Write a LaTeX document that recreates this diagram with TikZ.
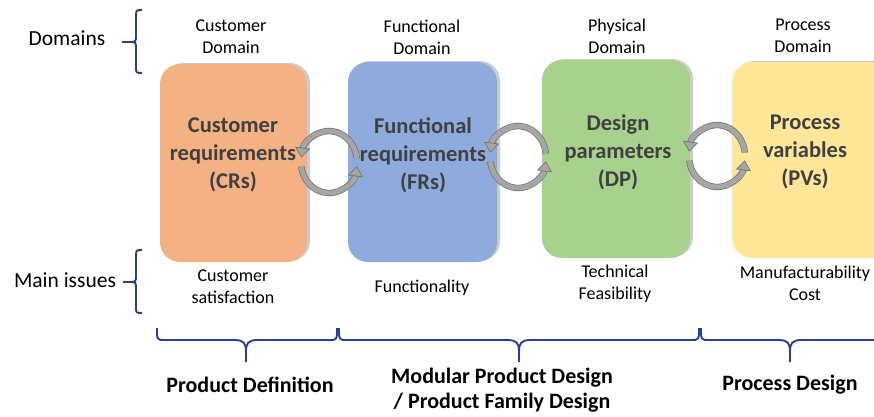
\documentclass[tikz,border=0pt]{standalone}
\usepackage{fontspec}
\setmainfont{Carlito}
\usetikzlibrary{arrows.meta,shadows}
\definecolor{cro}{HTML}{F4B183}
\definecolor{cfr}{HTML}{8FAADC}
\definecolor{cdp}{HTML}{A9D18E}
\definecolor{cpv}{HTML}{FFE699}
\definecolor{bcol}{HTML}{2E3D8F}
\definecolor{tgray}{HTML}{404040}
\definecolor{agray}{HTML}{A6A6A6}
\definecolor{adark}{HTML}{6F6F6F}
\newcommand\hbr[3]{%
  \draw[brc] (#1,328) .. controls (#1,340) .. ({#1+8},340) -- ({#2-12},340)
     .. controls ({#2-2},340) and (#2,343) .. (#2,352) -- (#2,362)
     (#2,362) -- (#2,352) .. controls (#2,343) and ({#2+2},340) .. ({#2+12},340)
     -- ({#3-8},340) .. controls (#3,340) .. (#3,328);}
\newcommand\cycarrows[1]{%
  \begin{scope}[shift={#1}, y=1pt]
    \draw[cyarr] (6:28 and 31) arc[start angle=6, end angle=172, x radius=28, y radius=31];
    \draw[cyarr] (188:28 and 31) arc[start angle=188, end angle=352, x radius=28, y radius=31];
  \end{scope}}
\begin{document}
\begin{tikzpicture}[x=1pt,y=-1pt,
  box/.style={rounded corners=20pt, inner sep=0pt,
    drop shadow={shadow xshift=3pt, shadow yshift=1pt, opacity=0.4}},
  boxtxt/.style={font=\fontsize{22.5}{28}\selectfont\bfseries, text=tgray, align=center},
  dom/.style={font=\fontsize{18}{22}\selectfont, align=center},
  side/.style={font=\fontsize{21.5}{24}\selectfont},
  bot/.style={font=\fontsize{22}{25}\selectfont\bfseries, align=center},
  brc/.style={draw=bcol, line width=1.9pt},
  cyarr/.style={draw=agray, line width=5pt,
    -{Triangle[width=15pt,length=10pt,line width=0.6pt,color=adark,fill=agray]},
    preaction={draw=adark, line width=6.4pt, -, shorten >=9pt}}]
\clip (0,0) rectangle (874,416);
% boxes
\node[box, fill=cro, minimum width=147pt, minimum height=198pt] (cr) at (233.5,163) {};
\node[box, fill=cfr, minimum width=149pt, minimum height=200pt] (fr) at (422.5,162) {};
\node[box, fill=cdp, minimum width=148pt, minimum height=198pt] (dp) at (616,159) {};
\node[box, fill=cpv, minimum width=170pt, minimum height=196pt] (pv) at (817,160) {};
% box texts
\node[boxtxt] (crt) at (233,155) {Customer\\requirements\\(CRs)};
\node[boxtxt] (frt) at (423,155) {Functional\\requirements\\(FRs)};
\node[boxtxt] (dpt) at (618,152) {Design\\parameters\\(DP)};
\node[boxtxt] (pvt) at (805,152) {Process\\variables\\(PVs)};
% cycle arrows
\cycarrows{(329,162)}
\cycarrows{(518,157)}
\cycarrows{(717,156)}
% domain labels
\node[dom] (d1) at (231,37) {Customer\\Domain};
\node[dom] (d2) at (422,37) {Functional\\Domain};
\node[dom] (d3) at (617,36) {Physical\\Domain};
\node[dom] (d4) at (803,36) {Process\\Domain};
% issue labels
\node[dom] (i1) at (233,287) {Customer\\satisfaction};
\node[dom] (i2) at (422,288) {Functionality};
\node[dom] (i3) at (615,283.5) {Technical\\Feasibility};
\node[dom] (i4) at (805,283) {Manufacturability\\Cost};
% side labels
\node[side] (domains) at (67,38) {Domains};
\node[side] (issues) at (65,280) {Main issues};
% side braces
\draw[brc] (142,10) .. controls (136,10) .. (136,17) -- (136,35) .. controls (136,42) .. (129,42) -- (122,42)
  (122,42) -- (129,42) .. controls (136,42) .. (136,49) -- (136,66) .. controls (136,73) .. (142,73);
\draw[brc] (142,250) .. controls (136,250) .. (136,257) -- (136,275) .. controls (136,282) .. (129,282) -- (123,282)
  (123,282) -- (129,282) .. controls (136,282) .. (136,289) -- (136,306) .. controls (136,313) .. (142,313);
% bottom braces
\hbr{157}{246}{337}
\hbr{339}{519}{699}
\hbr{701}{790}{884}
% bottom labels
\node[bot] (b1) at (250,385) {Product Definition};
\node[bot] (b2) at (502,390.5) {Modular Product Design\\/ Product Family Design};
\node[bot] (b3) at (790,385) {Process Design};
\end{tikzpicture}
\end{document}
